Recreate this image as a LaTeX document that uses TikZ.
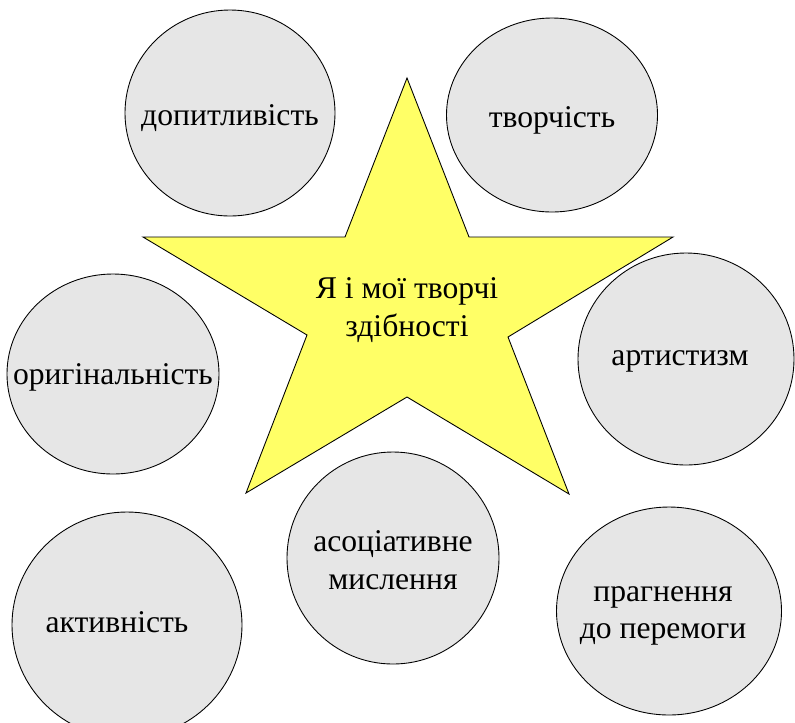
\documentclass[tikz,border=0pt]{standalone}
\usepackage{fontspec}
\setmainfont{Liberation Serif}
\newfontfamily\traitfont{Liberation Serif}
\usetikzlibrary{shapes.geometric}

\definecolor{trait}{HTML}{E6E6E6}
\definecolor{stargold}{HTML}{FFFF66}

\tikzset{
	trait/.style={ellipse, draw=black, fill=trait, line width=0.5pt, inner sep=0pt},
	traittext/.style={align=center, inner sep=0pt, font=\traitfont\fontsize{18}{21.5}\selectfont},
	starbody/.style={draw=black, fill=stargold, line width=0.5pt, line join=miter}
}

\begin{document}
\begin{tikzpicture}[x=0.2mm, y=-0.2mm]
	
	\useasboundingbox (0,0) rectangle (795,722);
	
	% Draw the star
	\draw[starbody] (407,78) -- (469,237) -- (673,237) -- (508,337) -- (569,494)
		-- (407,397) -- (246,493) -- (307,335) -- (143,237) -- (345,237) -- cycle;
	\node[traittext] (self) at (407,310) {Я і мої творчі\\здібності};
	
	% Draw traits
	\node[trait, minimum width=42mm, minimum height=41.2mm] (curious) at (230,113) {};
	\node[trait, minimum width=42.2mm, minimum height=38.8mm] (creative) at (552,115) {};
	\node[trait, minimum width=42.4mm, minimum height=40mm] (original) at (113,374) {};
	\node[trait, minimum width=43.2mm, minimum height=42.4mm] (artist) at (686,359) {};
	\node[trait, minimum width=42.4mm, minimum height=42.4mm] (assoc) at (393,558) {};
	\node[trait, minimum width=46mm, minimum height=45.2mm] (active) at (127,625) {};
	\node[trait, minimum width=45mm, minimum height=41.6mm] (victory) at (669,611) {};
	
	% Labels inside the traits
	\node[traittext] (curiouslbl) at ([yshift=-1mm]curious) {допитливість};
	\node[traittext] (creativelbl) at ([yshift=-1mm]creative) {творчість};
	\node[traittext] (originallbl) at ([yshift=-0.6mm]original) {оригінальність};
	\node[traittext] (artistlbl) at (680,361) {артистизм};
	\node[traittext] (assoclbl) at (393,560) {асоціативне\\мислення};
	\node[traittext] (activelbl) at (117,622) {активність};
	\node[traittext] (victorylbl) at (663,616) {прагнення\\до перемоги};
	
\end{tikzpicture}
\end{document}
